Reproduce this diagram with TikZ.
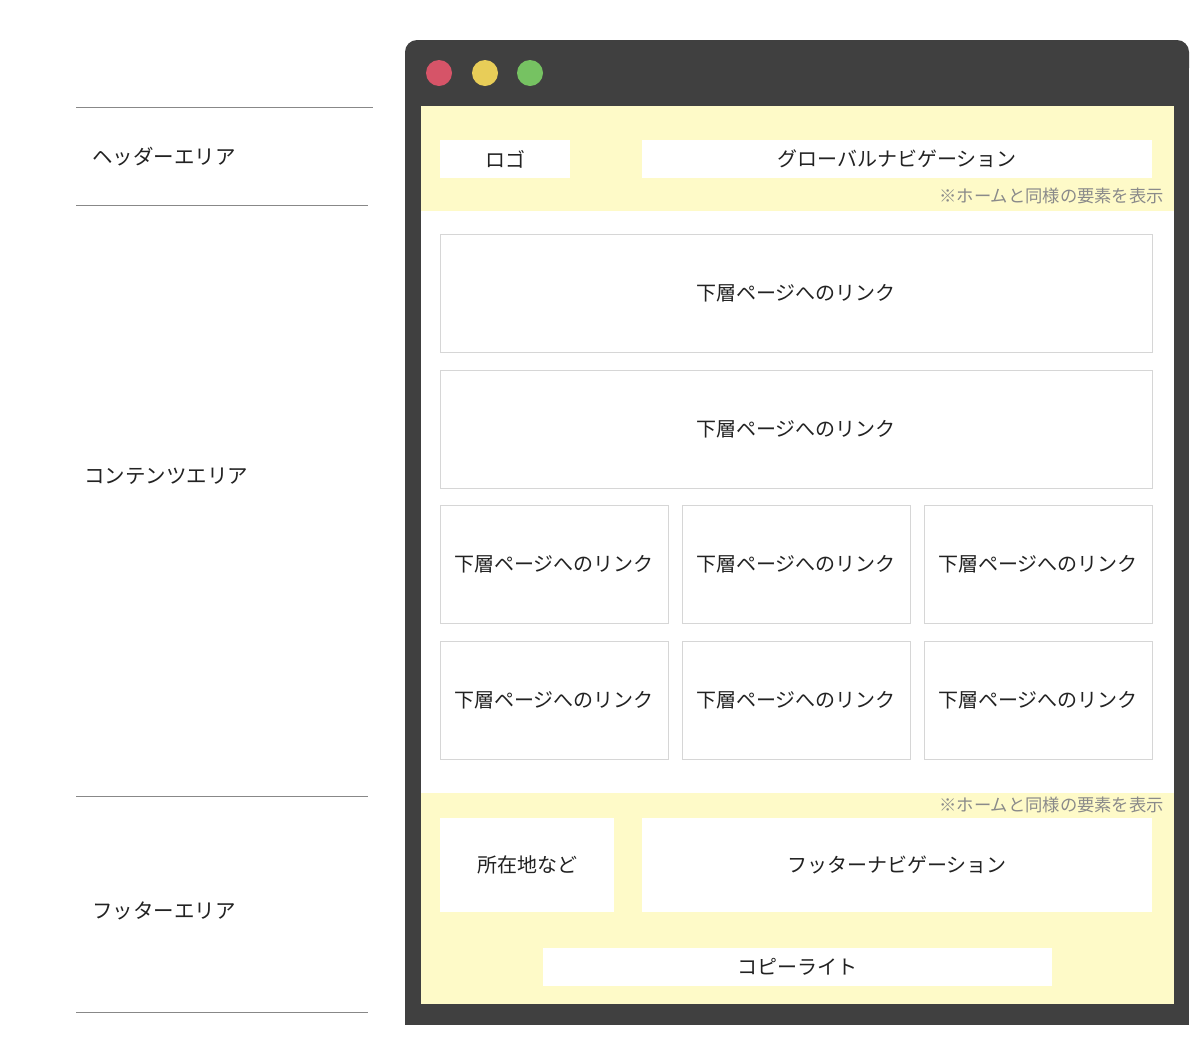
\documentclass[tikz,border=0pt]{standalone}
\usepackage{fontspec}
\setmainfont{Noto Sans CJK JP}
\definecolor{frame}{HTML}{404040}
\definecolor{hy}{HTML}{FEFAC8}
\definecolor{bordergray}{HTML}{D6D6D6}
\definecolor{notegray}{HTML}{8A8A8A}
\definecolor{txt}{HTML}{222222}
\definecolor{dred}{HTML}{D65468}
\definecolor{dyel}{HTML}{E8CD58}
\definecolor{dgrn}{HTML}{76C262}
\definecolor{sepline}{HTML}{888888}
\begin{document}
\begin{tikzpicture}[x=1pt,y=-1pt,
  lbl/.style={font=\fontsize{20}{22}\selectfont, text=txt},
  wbox/.style={fill=white, draw=none},
  linkbox/.style={fill=white, draw=bordergray, line width=1pt},
  note/.style={font=\fontsize{17.3}{20}\selectfont, text=notegray, anchor=east, inner sep=0pt},
  side/.style={font=\fontsize{20.5}{22}\selectfont, text=txt, anchor=west, inner sep=0pt},
  sep/.style={draw=sepline, line width=1pt},
  dot/.style={circle, minimum size=26pt, inner sep=0pt}
]
\useasboundingbox (0,0) rectangle (1200,1058);
\fill[white] (0,0) rectangle (1200,1058);
% browser frame
\fill[frame, rounded corners=12pt] (405,40) rectangle (1189,80);
\fill[frame] (405,60) rectangle (1189,1025);
% dots
\node[dot, fill=dred] (d1) at (439,73) {};
\node[dot, fill=dyel] (d2) at (485,73) {};
\node[dot, fill=dgrn] (d3) at (530,73) {};
% areas
\fill[hy] (421,106) rectangle (1174,211);
\fill[white] (421,211) rectangle (1174,793);
\fill[hy] (421,793) rectangle (1174,1004);
% header
\node[wbox, lbl, minimum width=130pt, minimum height=38pt] (logo) at (505,159) {ロゴ};
\node[wbox, lbl, minimum width=510pt, minimum height=38pt] (gnav) at (897,159) {グローバルナビゲーション};
\node[note] (n1) at (1164,196) {※ホームと同様の要素を表示};
% content
\node[linkbox, lbl, minimum width=712pt, minimum height=118pt] (l1) at (796,293) {下層ページへのリンク};
\node[linkbox, lbl, minimum width=712pt, minimum height=118pt] (l2) at (796,429) {下層ページへのリンク};
\foreach \cx/\nm in {554/a,796/b,1038/c}{
  \node[linkbox, lbl, minimum width=228pt, minimum height=118pt] (r1\nm) at (\cx,564) {下層ページへのリンク};
  \node[linkbox, lbl, minimum width=228pt, minimum height=118pt] (r2\nm) at (\cx,700) {下層ページへのリンク};
}
% footer
\node[note] (n2) at (1164,805) {※ホームと同様の要素を表示};
\node[wbox, lbl, minimum width=174pt, minimum height=94pt] (addr) at (527,865) {所在地など};
\node[wbox, lbl, minimum width=510pt, minimum height=94pt] (fnav) at (897,865) {フッターナビゲーション};
\node[wbox, lbl, minimum width=509pt, minimum height=38pt] (copy) at (797.5,967) {コピーライト};
% side labels
\coordinate (s1a) at (76,107); \coordinate (s1b) at (373,107);
\coordinate (s2a) at (76,205); \coordinate (s2b) at (368,205);
\coordinate (s3a) at (76,796); \coordinate (s3b) at (368,796);
\coordinate (s4a) at (76,1012); \coordinate (s4b) at (368,1012);
\draw[sep] (s1a) -- (s1b);
\draw[sep] (s2a) -- (s2b);
\draw[sep] (s3a) -- (s3b);
\draw[sep] (s4a) -- (s4b);
\node[side] (hl) at (92,157) {ヘッダーエリア};
\node[side] (cl) at (84,476) {コンテンツエリア};
\node[side] (fl) at (92,911) {フッターエリア};
\end{tikzpicture}
\end{document}
